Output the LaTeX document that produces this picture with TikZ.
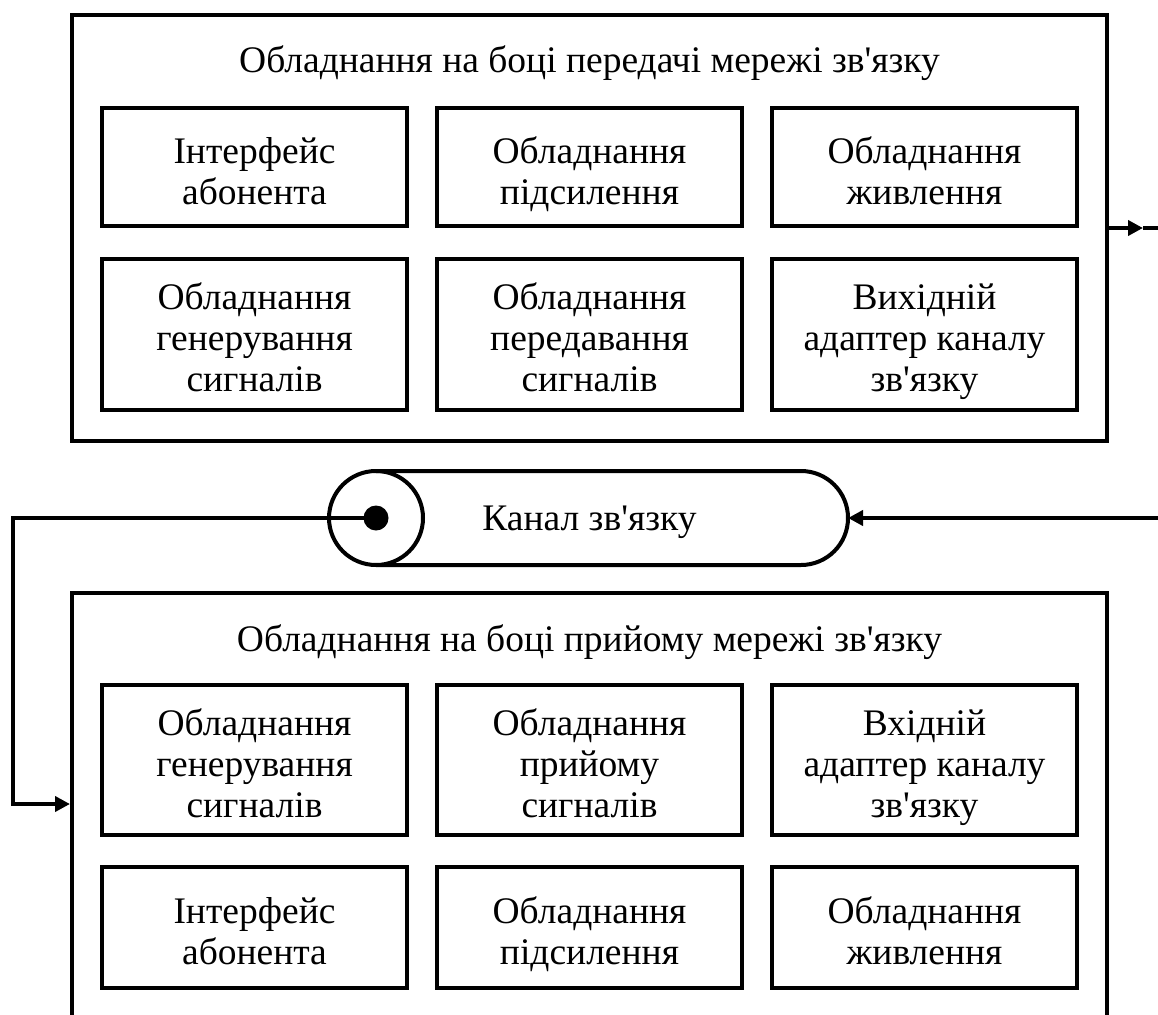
\documentclass[tikz,border=0pt]{standalone}
\usepackage{fontspec}
\setmainfont{Liberation Serif}[Ligatures=TeXOff]
\usetikzlibrary{arrows.meta}
\newcommand{\hs}{\rule{0pt}{43pt}}
\newcommand{\ds}{\rule[-10pt]{0pt}{10pt}}
\tikzset{
  lw/.style={line width=4pt},
  frame/.style={draw, lw, inner sep=0pt, minimum width=1035pt},
  unit/.style={draw, lw, inner sep=0pt, minimum width=305pt, align=center,
    font=\fontsize{37.5}{41}\selectfont},
  ttl/.style={anchor=base, inner sep=0pt, font=\fontsize{37.5}{41}\selectfont},
  tip/.style={-{Triangle[length=15pt,width=15pt]}},
}
\begin{document}
\begin{tikzpicture}[x=1pt,y=-1pt]
\clip (0,0) rectangle (1158,1014);
% top frame
\node[frame, minimum height=426pt] (top) at (589.5,228) {};
\node[ttl] (toptitle) at (589.5,73) {Обладнання на боці передачі мережі зв'язку};
\node[unit, minimum height=118pt] (t11) at (254.5,167) {\hs Інтерфейс\\абонента\ds};
\node[unit, minimum height=118pt] (t12) at (589.5,167) {\hs Обладнання\\підсилення\ds};
\node[unit, minimum height=118pt] (t13) at (924.5,167) {\hs Обладнання\\живлення\ds};
\node[unit, minimum height=151pt] (t21) at (254.5,334) {\hs Обладнання\\генерування\\сигналів\ds};
\node[unit, minimum height=151pt] (t22) at (589.5,334) {\hs Обладнання\\передавання\\сигналів\ds};
\node[unit, minimum height=151pt] (t23) at (924.5,334) {\hs Вихідній\\адаптер каналу\\зв'язку\ds};
% bottom frame
\node[frame, minimum height=460pt] (bot) at (589.5,823) {};
\node[ttl] (bottitle) at (589.5,651) {Обладнання на боці прийому мережі зв'язку};
\node[unit, minimum height=150pt] (b11) at (254.5,760) {\hs Обладнання\\генерування\\сигналів\ds};
\node[unit, minimum height=150pt] (b12) at (589.5,760) {\hs Обладнання\\прийому\\сигналів\ds};
\node[unit, minimum height=150pt] (b13) at (924.5,760) {\hs Вхідній\\адаптер каналу\\зв'язку\ds};
\node[unit, minimum height=121pt] (b21) at (254.5,927.5) {\hs Інтерфейс\\абонента\ds};
\node[unit, minimum height=121pt] (b22) at (589.5,927.5) {\hs Обладнання\\підсилення\ds};
\node[unit, minimum height=121pt] (b23) at (924.5,927.5) {\hs Обладнання\\живлення\ds};
% channel
\coordinate (chdot) at (376,518);
\coordinate (chend) at (848,518);
\draw[lw] (376,471) -- (801,471) arc[start angle=90, end angle=-90, radius=47pt] -- (376,565);
\draw[lw] (chdot) circle[radius=47pt];
\fill (chdot) circle[radius=12.5pt];
\node[ttl] (chan) at (589.5,530) {Канал зв'язку};
% connectors
\coordinate (outR) at (1143,228);
\coordinate (edgeR) at (1170,228);
\coordinate (inR) at (1170,518);
\coordinate (leftT) at (13,518);
\coordinate (leftB) at (13,804);
\draw[lw, tip] (top.east |- outR) -- (outR);
\draw[lw] (outR) -- (edgeR);
\draw[lw, tip] (inR) -- (chend);
\draw[lw, tip, line join=miter] (chdot) -- (leftT) -- (leftB) -- (bot.west |- leftB);
\end{tikzpicture}
\end{document}
